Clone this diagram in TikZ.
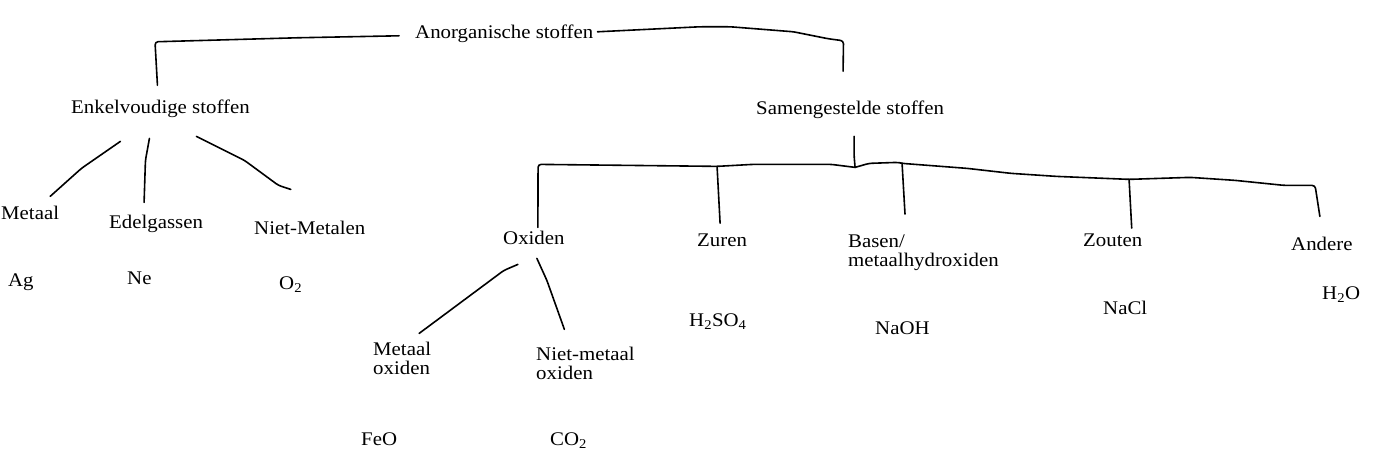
\documentclass[tikz,border=0pt]{standalone}
\usepackage{fontspec}
\setmainfont{Liberation Serif}[FakeStretch=1.08]
\usetikzlibrary{calc}
\tikzset{
  lbl/.style={anchor=base west,inner sep=0pt,font=\fontsize{19.3}{19}\selectfont,align=left},
  hand/.style={line width=1.6pt,line join=round,line cap=round,rounded corners=3pt},
}

\begin{document}
\begin{tikzpicture}[x=1pt,y=-1pt]
\useasboundingbox (0,0) rectangle (1397,461);
% ---- top ----
\node[lbl] (ano) at (415,38) {Anorganische stoffen};
\node[lbl] (enk) at (71,113) {Enkelvoudige stoffen};
\node[lbl] (sam) at (756,114) {Samengestelde stoffen};

% ---- enkelvoudige stoffen ----
\node[lbl] (met) at (1,219) {Metaal};
\node[lbl] (edl) at (109,228) {Edelgassen};
\node[lbl] (nme) at (254,234) {Niet-Metalen};
\node[lbl] (ag) at (8,286) {Ag};
\node[lbl] (ne) at (127,284) {Ne};
\node[lbl] (o2) at (279,289) {O\textsubscript{2}};

% ---- samengestelde stoffen ----
\node[lbl] (ox) at (503,244) {Oxiden};
\node[lbl] (zur) at (697,246) {Zuren};
\node[lbl] (bas) at (848,266) {Basen/\\metaalhydroxiden};
\node[lbl] (zou) at (1083,246) {Zouten};
\node[lbl] (andr) at (1291,250) {Andere};
\node[lbl] (h2so4) at (689,326) {H\textsubscript{2}SO\textsubscript{4}};
\node[lbl] (naoh) at (875,334) {NaOH};
\node[lbl] (nacl) at (1103,314) {NaCl};
\node[lbl] (h2o) at (1322,299) {H\textsubscript{2}O};

% ---- oxiden ----
\node[lbl] (mox) at (373,374) {Metaal\\oxiden};
\node[lbl] (nmo) at (536,379) {Niet-metaal\\oxiden};
\node[lbl] (feo) at (361,445) {FeO};
\node[lbl] (co2) at (550,445) {CO\textsubscript{2}};

% ---- hand-drawn lines ----
\draw[hand] ($(ano.west)+(-16,2.5)$) -- ++(-102,2) -- ++(-142,4) -- ($(enk.north)+(-3,-14)$);
\draw[hand] ($(ano.east)+(4,-1.5)$) -- ++(102,-5) -- ++(31,0) -- ++(63,5) -- ++(35,7) -- ++(15,2)
  -- ($(sam.north)+(-7,-29)$);

\draw[hand] ($(enk.south)+(-40,24)$) -- ++(-39,27) -- ($(met.north)+(20,-9)$);
\draw[hand] ($(enk.south)+(-11,21)$) -- ++(-4,22) -- ($(edl.north)+(-12,-12)$);
\draw[hand] ($(enk.south)+(36,19)$) -- ++(48,24) -- ++(34,25) -- ($(nme.north)+(-19,-31)$);

\draw[hand] ($(sam.south)+(4,18)$) -- ++(0,19) -- ++(1,12) coordinate (bar);
\draw[hand] (bar) -- ++(-24,-3) -- ++(-78,0) -- ++(-36,2) coordinate (zj) -- ++(-179,-2)
  -- ($(ox.north)+(4,-3)$);
\draw[hand] (zj) -- ($(zur.north)+(-2,-10)$);
\draw[hand] (bar) -- ++(14,-4) -- ++(29,-1) -- ++(4,1) coordinate (bj) -- ++(65,5) -- ++(44,5)
  -- ++(45,3) -- ++(73,3) coordinate (zoj) -- ++(61,-2) -- ++(45,3) -- ++(49,5) -- ++(31,0)
  -- ($(andr.north)+(-2,-20)$);
\draw[hand] (bj) -- ($(bas.north west)+(57,-20)$);
\draw[hand] (zoj) -- ($(zou.north)+(19,-5)$);

\draw[hand] ($(ox.south)+(-16,20)$) -- ++(-14,6) -- ($(mox.north)+(17,-8)$);
\draw[hand] ($(ox.south)+(3,14)$) -- ++(10,22) -- ($(nmo.north)+(-21,-17)$);
\end{tikzpicture}
\end{document}
